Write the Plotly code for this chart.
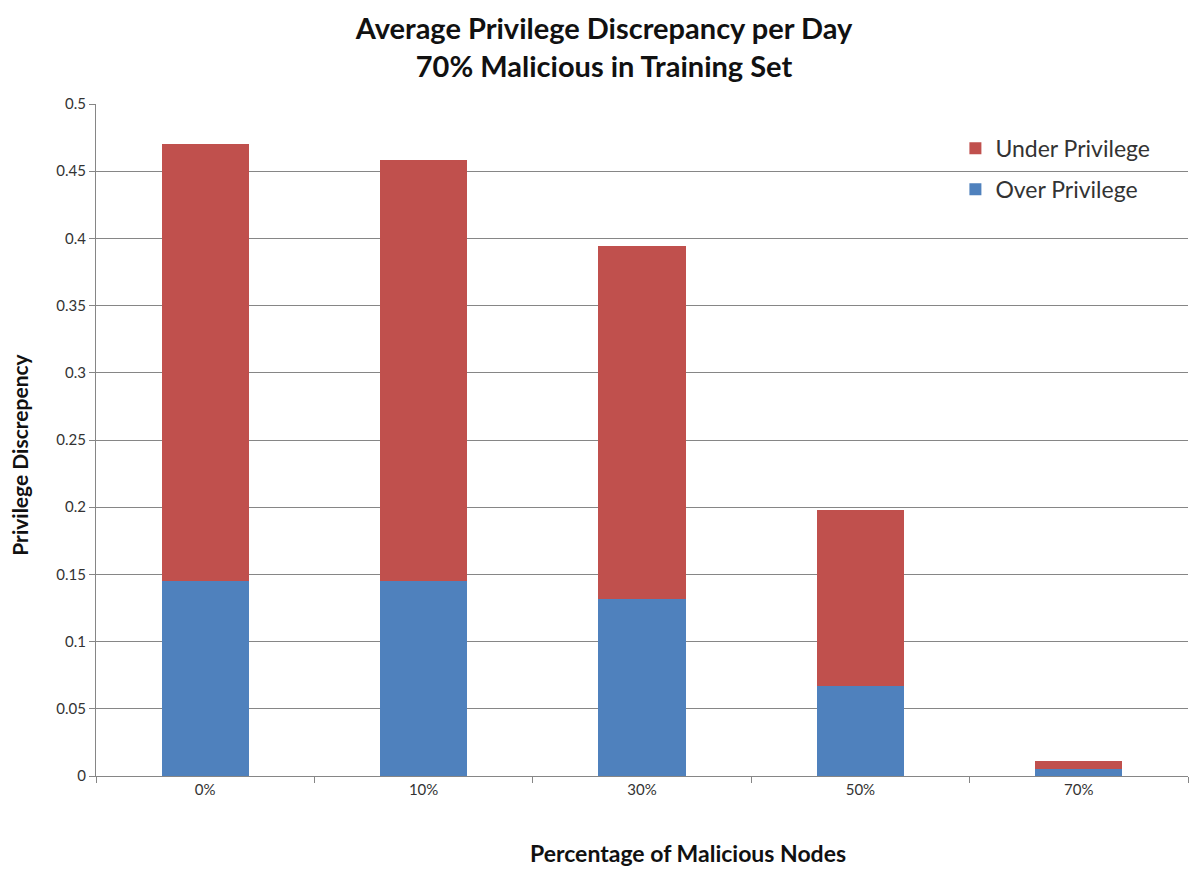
import plotly.graph_objects as go

categories = ["0%", "10%", "30%", "50%", "70%"]
over_privilege = [0.145, 0.145, 0.132, 0.067, 0.005]
under_privilege = [0.325, 0.313, 0.262, 0.131, 0.006]

x_title = "Percentage of Malicious Nodes"
y_title = "Privilege Discrepency"

fig = go.Figure()
fig.add_trace(go.Bar(x=categories, y=over_privilege, name="Over Privilege",
                     legendgroup="over", legendrank=2,
                     marker=dict(color="#4F81BD", line=dict(width=0))))
fig.add_trace(go.Bar(x=categories, y=under_privilege, name="Under Privilege",
                     legendgroup="under", legendrank=1,
                     marker=dict(color="#C0504D", line=dict(width=0))))

fig.update_layout(
    barmode="stack",
    bargap=0.6,
    width=1192, height=873,
    paper_bgcolor="white", plot_bgcolor="white",
    margin=dict(l=88, r=12, t=96, b=105),
    font=dict(family="Lato, Open Sans, sans-serif", color="#222"),
    title=dict(text="<b>Average Privilege Discrepancy per Day<br>70% Malicious in Training Set</b>",
               x=0.5, xanchor="center", y=0.964, yanchor="top",
               font=dict(size=29, color="#111")),
    legend=dict(x=0.787, y=0.966, xanchor="left", yanchor="top",
                traceorder="grouped", tracegroupgap=8,
                font=dict(size=23, color="#333"),
                bgcolor="rgba(0,0,0,0)", itemsizing="constant"),
    xaxis=dict(
        showline=True, linecolor="#868686", linewidth=1,
        ticks="outside", tickson="boundaries", ticklen=6, tickcolor="#868686",
        tickfont=dict(size=15, color="#333"),
    ),
    yaxis=dict(
        range=[0, 0.5], dtick=0.05, tickformat="~g",
        showline=True, linecolor="#868686", linewidth=1,
        showgrid=True, gridcolor="#868686", gridwidth=1,
        ticks="outside", ticklen=6, tickcolor="#868686",
        tickfont=dict(size=15, color="#333"),
        zeroline=False,
    ),
    annotations=[
        dict(text=f"<b>{x_title}</b>", xref="paper", yref="paper", x=0.542, y=0,
             xanchor="center", yanchor="middle", yshift=-77, showarrow=False,
             font=dict(size=23, color="#111")),
        dict(text=f"<b>{y_title}</b>", xref="paper", yref="paper", x=0, y=0.478,
             xanchor="center", yanchor="middle", xshift=-76, textangle=-90, showarrow=False,
             font=dict(size=21, color="#111")),
    ],
)

fig.write_html("out.html")
